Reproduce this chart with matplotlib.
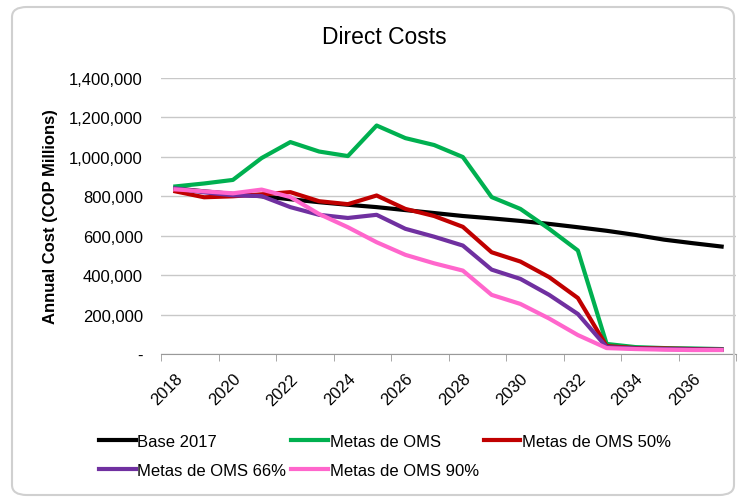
import matplotlib.pyplot as plt
from matplotlib.patches import FancyBboxPatch
from matplotlib.ticker import FuncFormatter

plt.rcParams['font.family'] = ['Liberation Sans', 'DejaVu Sans']

years = list(range(2018, 2038))

base_2017 = [840, 825, 812, 800, 785, 770, 757, 745, 730, 715,
             700, 688, 675, 660, 643, 625, 604, 580, 562, 545]
metas_oms = [850, 865, 883, 994, 1075, 1027, 1004, 1159, 1095, 1060,
             999, 796, 736, 635, 525, 51, 35, 30, 28, 25]
metas_50 = [825, 795, 800, 810, 821, 775, 760, 804, 736, 700,
            645, 516, 469, 390, 284, 40, 30, 28, 25, 22]
metas_66 = [840, 820, 805, 801, 745, 706, 690, 706, 635, 595,
            550, 428, 381, 300, 203, 35, 28, 25, 23, 22]
metas_90 = [835, 825, 815, 834, 796, 710, 643, 567, 503, 460,
            423, 300, 254, 180, 96, 30, 25, 22, 20, 20]

series = [
    ("Base 2017", base_2017, "#000000"),
    ("Metas de OMS", metas_oms, "#00B050"),
    ("Metas de OMS 50%", metas_50, "#C00000"),
    ("Metas de OMS 66%", metas_66, "#7030A0"),
    ("Metas de OMS 90%", metas_90, "#FF66CC"),
]

fig = plt.figure(figsize=(7.42, 5.02), dpi=100)
ax = fig.add_axes([161 / 742, 1 - 355 / 502, 575 / 742, 276 / 502])

x = list(range(len(years)))
for name, vals, color in series:
    ax.plot(x, [v * 1000 for v in vals], color=color, lw=3, label=name,
            solid_joinstyle='round')

ax.set_xlim(-0.5, len(years) - 0.5)
ax.set_ylim(0, 1400000)
ax.set_yticks(range(0, 1400001, 200000))
ax.yaxis.set_major_formatter(FuncFormatter(lambda v, p: "-" if v == 0 else f"{int(v):,}"))
ax.grid(axis='y', color='#c8c8c8', lw=1)
ax.set_axisbelow(True)

ax.set_xticks(x[::2])
ax.set_xticklabels([str(y) for y in years[::2]], rotation=45, ha='right',
                   rotation_mode='anchor', fontsize=12)
ax.set_xticks([i - 0.5 for i in range(0, len(years) + 1, 2)], minor=True)
ax.tick_params(axis='x', which='major', length=0, pad=12)
ax.tick_params(axis='x', which='minor', length=5, color='#999999')
ax.tick_params(axis='y', length=0, labelsize=12, pad=13)

for s in ['top', 'right', 'left']:
    ax.spines[s].set_visible(False)
ax.spines['bottom'].set_color('#999999')

ax.set_ylabel("Annual Cost (COP Millions)", fontsize=12, fontweight='bold', labelpad=8)
fig.text(384 / 742, 1 - 37 / 502, "Direct Costs", fontsize=16.5, ha='center', va='center')

# matplotlib fills legend columns first; reorder so rows read like the original
handles, labels = ax.get_legend_handles_labels()
order = [0, 3, 1, 4, 2]
fig.legend([handles[i] for i in order], [labels[i] for i in order],
           loc='upper left', bbox_to_anchor=(84 / 742, 1 - 420 / 502),
           ncol=3, frameon=False, fontsize=12, handlelength=2.2, handletextpad=0.1,
           columnspacing=0.3, labelspacing=0.85)

border = FancyBboxPatch((12 / 742, 6 / 502), 722 / 742, 488 / 502,
                        boxstyle="round,pad=0,rounding_size=0.02",
                        transform=fig.transFigure, fill=False,
                        edgecolor='#d0d0d0', lw=1.5)
fig.patches.append(border)

fig.savefig("out.png", dpi=100)
